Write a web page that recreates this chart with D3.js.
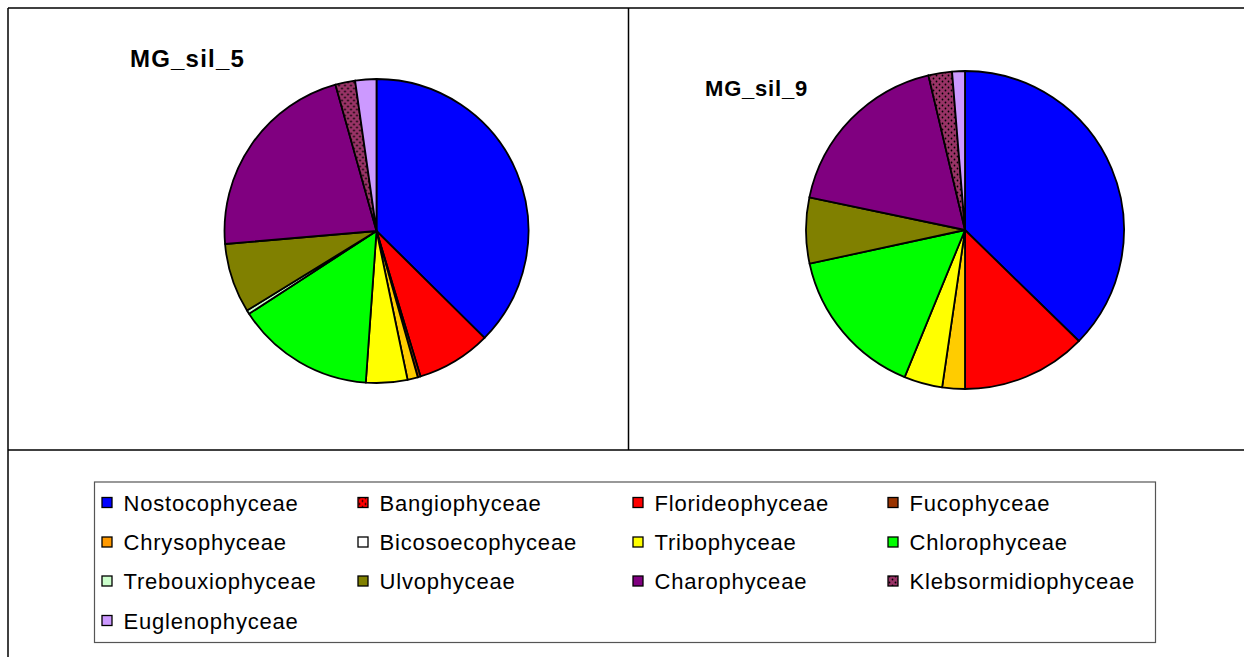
<!DOCTYPE html>
<html>
<head>
<meta charset="utf-8">
<script src="https://cdn.jsdelivr.net/npm/d3@7"></script>
<style>
  html, body { margin: 0; padding: 0; background: #fff; }
  svg { display: block; font-family: "Liberation Sans", Arial, sans-serif; }
</style>
</head>
<body>
<svg id="chart" width="1244" height="657"></svg>
<script>
// classes, in legend order (row by row)
const categories = [
  "Nostocophyceae", "Bangiophyceae", "Florideophyceae", "Fucophyceae",
  "Chrysophyceae", "Bicosoecophyceae", "Tribophyceae", "Chlorophyceae",
  "Trebouxiophyceae", "Ulvophyceae", "Charophyceae", "Klebsormidiophyceae",
  "Euglenophyceae"
];

// share of each class (%)
const sil5 = [37.4, 0, 7.9, 0.3, 1.1, 0, 4.4, 14.7, 0.4, 7.4, 22.0, 2.1, 2.25];
const sil9 = [37.3, 0, 12.7, 0, 2.3, 0, 3.9, 15.4, 0, 6.7, 18.0, 2.4, 1.3];

const titles = ["MG_sil_5", "MG_sil_9"];

const colors = [
  "#0000FF", "url(#dotsRed)", "#FF0000", "#993300",
  "#FFCC00", "#FFFFFF", "#FFFF00", "#00FF00",
  "#CCFFCC", "#808000", "#800080", "url(#dotsPlum)",
  "#CC99FF"
];
// legend swatch for Chrysophyceae shows a deeper orange
const legendColors = colors.map((c, i) => (i === 4 ? "#FF9900" : c));

const svg = d3.select("#chart");
const defs = svg.append("defs");

// dotted fills
function dotPattern(id, bg) {
  const p = defs.append("pattern")
    .attr("id", id)
    .attr("patternUnits", "userSpaceOnUse")
    .attr("width", 6)
    .attr("height", 6);
  p.append("rect").attr("width", 6).attr("height", 6).attr("fill", bg);
  p.append("circle").attr("cx", 1.5).attr("cy", 1.5).attr("r", 0.9).attr("fill", "#000");
  p.append("circle").attr("cx", 4.5).attr("cy", 4.5).attr("r", 0.9).attr("fill", "#000");
}
dotPattern("dotsRed", "#FF0000");
dotPattern("dotsPlum", "#993366");

// frame lines (right and bottom edges are cut off)
const frame = svg.append("g").attr("stroke", "#000").attr("stroke-width", 1.5);
frame.append("line").attr("x1", 8).attr("y1", 8).attr("x2", 1244).attr("y2", 8);
frame.append("line").attr("x1", 8).attr("y1", 8).attr("x2", 8).attr("y2", 657);
frame.append("line").attr("x1", 628.5).attr("y1", 8).attr("x2", 628.5).attr("y2", 450);
frame.append("line").attr("x1", 8).attr("y1", 450).attr("x2", 1244).attr("y2", 450);

// pies
const panels = [
  { values: sil5, cx: 376.5, cy: 231, r: 152, tx: 130, ty: 67, fs: 24, ls: 1.2 },
  { values: sil9, cx: 965, cy: 230, r: 159, tx: 705, ty: 96, fs: 22, ls: 0.8 }
];

const pie = d3.pie().sort(null).value(d => d.value);

panels.forEach((p, k) => {
  const data = categories.map((name, i) => ({ name: name, value: p.values[i], color: colors[i] }))
    .filter(d => d.value > 0);
  const arc = d3.arc().innerRadius(0).outerRadius(p.r);

  const g = svg.append("g").attr("transform", `translate(${p.cx},${p.cy})`);
  g.selectAll("path")
    .data(pie(data))
    .enter()
    .append("path")
    .attr("d", arc)
    .attr("fill", d => d.data.color)
    .attr("stroke", "#000")
    .attr("stroke-width", 1.8)
    .attr("stroke-linejoin", "round");

  svg.append("text")
    .attr("x", p.tx)
    .attr("y", p.ty)
    .attr("font-size", p.fs)
    .attr("font-weight", "bold")
    .attr("letter-spacing", p.ls)
    .text(titles[k]);
});

// legend
const legend = svg.append("g").attr("id", "legend");
legend.append("rect")
  .attr("x", 94.5).attr("y", 482)
  .attr("width", 1061).attr("height", 160.5)
  .attr("fill", "#fff")
  .attr("stroke", "#555")
  .attr("stroke-width", 1.2);

const colX = [102, 358, 633, 888];
const rowY = [502.5, 542, 581, 620.5];

const entry = legend.selectAll("g.legend_entry")
  .data(categories)
  .enter()
  .append("g")
  .attr("class", "legend_entry")
  .attr("transform", (d, i) => `translate(${colX[i % 4]},${rowY[Math.floor(i / 4)]})`);

entry.append("rect")
  .attr("x", 0).attr("y", -5)
  .attr("width", 10).attr("height", 10)
  .attr("fill", (d, i) => legendColors[i])
  .attr("stroke", "#000")
  .attr("stroke-width", 1.3);

entry.append("text")
  .attr("x", 21.5)
  .attr("y", 8)
  .attr("font-size", 22)
  .attr("letter-spacing", 0.8)
  .text(d => d);
</script>
</body>
</html>
